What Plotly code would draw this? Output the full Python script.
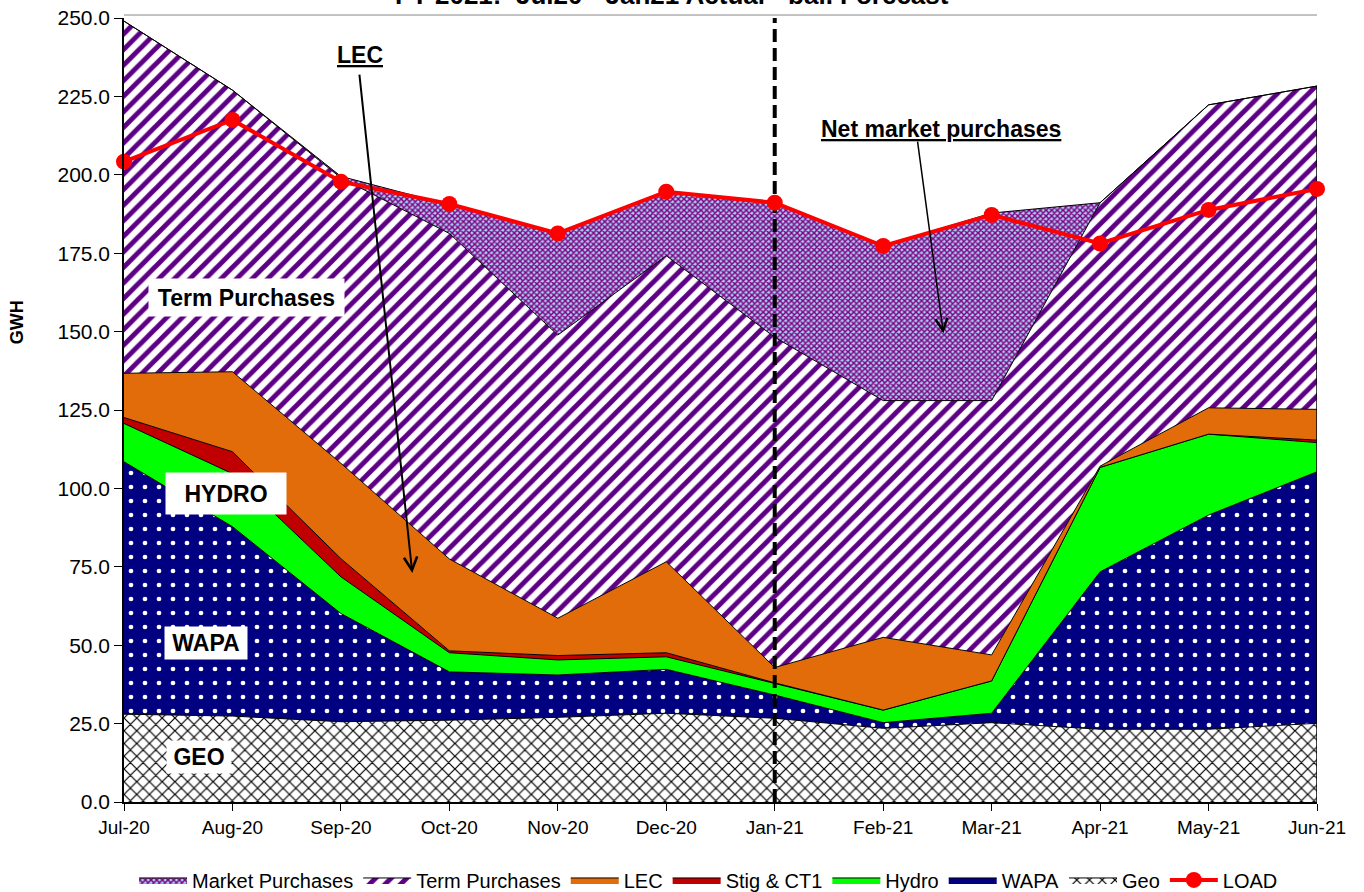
import plotly.graph_objects as go

months = ['Jul-20', 'Aug-20', 'Sep-20', 'Oct-20', 'Nov-20', 'Dec-20',
          'Jan-21', 'Feb-21', 'Mar-21', 'Apr-21', 'May-21', 'Jun-21']
geo = [28.0, 27.4, 25.6, 26.1, 27.0, 28.3, 26.7, 23.5, 25.3, 23.2, 23.2, 25.1]
wapa = [80.5, 60.4, 34.5, 15.4, 13.5, 14.0, 7.4, 1.8, 3.0, 50.2, 68.3, 80.2]
hydro = [12.2, 16.9, 11.7, 6.1, 4.8, 4.0, 3.7, 4.0, 10.3, 33.3, 25.8, 9.3]
stig = [1.9, 7.0, 5.8, 0.6, 1.4, 1.3, 0.2, 0.0, 0.0, 0.0, 0.0, 0.8]
lec = [14.1, 25.5, 30.4, 29.3, 11.9, 29.0, 4.9, 23.2, 8.3, 0.4, 8.4, 9.8]
term = [112.3, 89.8, 91.0, 103.8, 90.3, 97.6, 105.3, 75.5, 81.1, 84.0, 96.6, 103.1]
market = [0.0, 0.0, 0.5, 9.2, 32.4, 20.4, 42.9, 49.3, 59.8, 0.0, 0.0, 0.0]
load = [204.2, 217.5, 197.8, 190.7, 181.3, 194.6, 191.1, 177.3, 187.2, 178.1, 188.8, 195.5]

y_ticks = [0, 25, 50, 75, 100, 125, 150, 175, 200, 225, 250]
divider_month = 'Jan-21'
title_text = 'FY 2021:  Jul20 - Jan21 Actual - bal. Forecast'

FONT = 'Liberation Sans, Arial, sans-serif'
edge = dict(color='black', width=1)

fig = go.Figure()

series = [
    ('Geo', geo, dict(shape='x', fgcolor='black', bgcolor='white', size=9, solidity=0.25), 7),
    ('WAPA', wapa, dict(shape='.', fgcolor='white', bgcolor='#000080', size=14, solidity=0.09), 6),
    ('Hydro', hydro, None, 5),
    ('Stig & CT1', stig, None, 4),
    ('LEC', lec, None, 3),
    ('Term Purchases', term, dict(shape='/', fgcolor='#5E0085', bgcolor='white', size=11, solidity=0.45), 2),
    ('Market Purchases', market, dict(shape='x', fgcolor='#800080', bgcolor='#A6CCF2', size=4, solidity=0.6), 1),
]
solid = {'Hydro': '#00FF00', 'Stig & CT1': '#C00000', 'LEC': '#E36C0A'}

for name, vals, pat, rank in series:
    kw = dict(x=months, y=vals, name=name, mode='lines', stackgroup='one',
              line=edge, legendrank=rank, hoverinfo='skip')
    if pat is None:
        kw['fillcolor'] = solid[name]
    else:
        kw['fillcolor'] = pat['bgcolor']
        kw['fillpattern'] = dict(shape=pat['shape'], fgcolor=pat['fgcolor'],
                                 bgcolor=pat['bgcolor'], size=pat['size'],
                                 solidity=pat['solidity'], fillmode='replace')
    fig.add_trace(go.Scatter(**kw))

# right edge of the stacked areas
total_last = geo[-1] + wapa[-1] + hydro[-1] + stig[-1] + lec[-1] + term[-1] + market[-1]
fig.add_trace(go.Scatter(x=[months[-1], months[-1]], y=[0, total_last], mode='lines',
                         line=dict(color='black', width=1.5), showlegend=False,
                         hoverinfo='skip'))

# divider
fig.add_trace(go.Scatter(x=[divider_month, divider_month], y=[0, 251.5], mode='lines',
                         line=dict(color='black', width=4, dash='13px,6px'),
                         showlegend=False, hoverinfo='skip', cliponaxis=False))

fig.add_trace(go.Scatter(x=months, y=load, name='LOAD', mode='lines+markers',
                         line=dict(color='#FF0000', width=4),
                         marker=dict(color='#FF0000', size=16),
                         legendrank=8, cliponaxis=False))

ann = []
lab_font = dict(family=FONT, size=23, color='black')
ann.append(dict(x=1.125, y=160.9, xref='x', yref='y', text='<b>Term Purchases</b>',
                showarrow=False, bgcolor='white', width=193, height=35, font=lab_font))
ann.append(dict(x=0.94, y=98.4, xref='x', yref='y', text='<b>HYDRO</b>',
                showarrow=False, bgcolor='white', width=118, height=39, font=lab_font))
ann.append(dict(x=0.756, y=50.7, xref='x', yref='y', text='<b>WAPA</b>',
                showarrow=False, bgcolor='white', width=80, height=30, font=lab_font))
ann.append(dict(x=0.692, y=14.3, xref='x', yref='y', text='<b>GEO</b>',
                showarrow=False, bgcolor='white', width=62, height=30, font=lab_font))
ann.append(dict(x=2.176, y=238.2, xref='x', yref='y', text='<b><u>LEC</u></b>',
                showarrow=False, font=lab_font))
ann.append(dict(x=7.533, y=214.6, xref='x', yref='y', text='<b><u>Net market purchases</u></b>',
                showarrow=False, font=lab_font))
# arrows
ann.append(dict(x=2.658, y=73.0, xref='x', yref='y', text='', showarrow=True,
                axref='pixel', ayref='pixel', ax=-53, ay=-500,
                arrowhead=5, arrowsize=1.3, arrowwidth=2, arrowcolor='black'))
ann.append(dict(x=7.555, y=149.5, xref='x', yref='y', text='', showarrow=True,
                axref='pixel', ayref='pixel', ax=-26, ay=-193,
                arrowhead=5, arrowsize=1.6, arrowwidth=1.5, arrowcolor='black'))
# y axis title
ann.append(dict(x=-0.0897, y=153, xref='paper', yref='y', xanchor='center',
                yanchor='middle', text='<b>GWH</b>', textangle=-90, showarrow=False,
                font=dict(family=FONT, size=18, color='black')))
# title (cut at the top edge like the reference)
ann.append(dict(x=0.2255, y=1.0077, xref='paper', yref='paper', xanchor='left',
                yanchor='bottom', text='<b>' + title_text + '</b>', showarrow=False,
                font=dict(family=FONT, size=26, color='black')))

fig.update_layout(
    width=1364, height=892,
    margin=dict(l=124, r=47, t=18, b=90, autoexpand=False),
    paper_bgcolor='white', plot_bgcolor='white',
    font=dict(family=FONT, size=19, color='black'),
    showlegend=True,
    legend=dict(orientation='h', traceorder='normal', x=0.49, xanchor='center',
                xref='paper', yref='container', y=0.0135, yanchor='middle',
                font=dict(family=FONT, size=20, color='black'), itemwidth=48,
                tracegroupgap=0),
    annotations=ann,
    shapes=[dict(type='line', xref='paper', yref='paper', x0=0, x1=1, y0=1.0038, y1=1.0038,
                 line=dict(color='#888888', width=1))],
)
fig.update_xaxes(type='category', range=[0, 11], showgrid=False, showline=True,
                 linecolor='black', linewidth=1.5, ticks='outside', ticklen=7,
                 tickcolor='black', tickfont=dict(family=FONT, size=19), zeroline=False)
fig.update_yaxes(range=[0, 250], tickvals=y_ticks, tickformat='.1f', showgrid=False,
                 showline=True, linecolor='black', linewidth=1.5, ticks='outside',
                 ticklen=8, tickcolor='black', tickfont=dict(family=FONT, size=21),
                 zeroline=False)

fig.write_html('out.html')
